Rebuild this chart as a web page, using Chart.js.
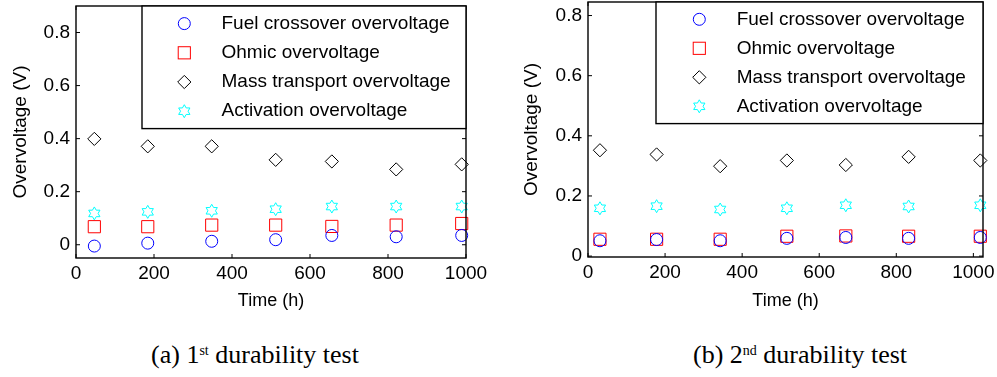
<!DOCTYPE html>
<html>
<head>
<meta charset="utf-8">
<script src="https://cdn.jsdelivr.net/npm/chart.js@4.4.1/dist/chart.umd.min.js"></script>
<style>
html,body{margin:0;padding:0;background:#fff;}
body{width:997px;height:377px;overflow:hidden;position:relative;}
.box{position:absolute;top:0;}
.cap{position:absolute;top:342px;font-family:"Liberation Serif","Times New Roman",serif;font-size:26px;line-height:26px;color:#000;white-space:nowrap;transform:translateX(-50%);}
.cap sup{font-size:14px;line-height:0;vertical-align:0.55em;}
</style>
</head>
<body>
<div class="box" style="left:0;"><canvas id="c1" width="490" height="315"></canvas></div>
<div class="box" style="left:500px;"><canvas id="c2" width="497" height="315"></canvas></div>
<div class="cap" style="left:255px;">(a) 1<sup>st</sup> durability test</div>
<div class="cap" style="left:800px;">(b) 2<sup>nd</sup> durability test</div>
<script>
// ---------- data ----------
const seriesLabels = ['Fuel crossover overvoltage', 'Ohmic overvoltage', 'Mass transport overvoltage', 'Activation overvoltage'];

// (a) 1st durability test
const timeA = [47, 184, 348, 512, 656, 821, 989];
const fuelA = [-0.005, 0.006, 0.013, 0.019, 0.035, 0.030, 0.035];
const ohmicA = [0.068, 0.068, 0.074, 0.074, 0.069, 0.074, 0.080];
const massA = [0.399, 0.371, 0.371, 0.320, 0.314, 0.284, 0.303];
const actA = [0.118, 0.124, 0.128, 0.134, 0.144, 0.144, 0.144];

// (b) 2nd durability test
const timeB = [31, 178, 343, 516, 669, 832, 1018];
const fuelB = [0.051, 0.055, 0.051, 0.059, 0.062, 0.059, 0.062];
const ohmicB = [0.056, 0.056, 0.056, 0.066, 0.067, 0.066, 0.066];
const massB = [0.352, 0.338, 0.299, 0.318, 0.303, 0.330, 0.318];
const actB = [0.159, 0.166, 0.155, 0.159, 0.169, 0.165, 0.169];

const xTickValues = [0, 200, 400, 600, 800, 1000];
const xTickLabels = ['0', '200', '400', '600', '800', '1000'];
const yTickValues = [0, 0.2, 0.4, 0.6, 0.8];
const yTickLabels = ['0', '0.2', '0.4', '0.6', '0.8'];

// ---------- markers ----------
function hexagramPath(ctx, cx, cy, R) {
  const r = R / Math.sqrt(3);
  ctx.beginPath();
  for (let k = 0; k < 12; k++) {
    const a = -Math.PI / 2 + k * Math.PI / 6;
    const rr = (k % 2 === 0) ? R : r;
    const px = cx + rr * Math.cos(a), py = cy + rr * Math.sin(a);
    if (k === 0) ctx.moveTo(px, py); else ctx.lineTo(px, py);
  }
  ctx.closePath();
}
function hexagramImg(color, R) {
  const s = Math.ceil(2 * R + 4);
  const c = document.createElement('canvas');
  c.width = s; c.height = s;
  const g = c.getContext('2d');
  g.strokeStyle = color; g.lineWidth = 1;
  hexagramPath(g, s / 2, s / 2, R);
  g.stroke();
  return c;
}
const STAR_R = 6.5;
const starImg = hexagramImg('#00ffff', STAR_R);

const styles = [
  { pointStyle: 'circle', borderColor: '#0000ff', radius: 6 },
  { pointStyle: 'rect', borderColor: '#ff0000', radius: 8.6 },
  { pointStyle: 'rectRot', borderColor: '#000000', radius: 6.6 },
  { pointStyle: starImg, borderColor: '#00ffff', radius: 7, hexagram: true }
];

function drawMarker(ctx, ds, x, y) {
  const st = ds.pointStyle;
  const r = ds.pointRadius;
  ctx.save();
  ctx.strokeStyle = ds.borderColor; ctx.lineWidth = 1;
  if (ds.hexagram) {
    hexagramPath(ctx, x, y, STAR_R); ctx.stroke();
  } else if (st === 'rect') {
    const s = Math.SQRT1_2 * r;
    ctx.strokeRect(x - s, y - s, 2 * s, 2 * s);
  } else if (st === 'rectRot') {
    ctx.beginPath();
    ctx.moveTo(x - r, y); ctx.lineTo(x, y - r); ctx.lineTo(x + r, y); ctx.lineTo(x, y + r);
    ctx.closePath(); ctx.stroke();
  } else {
    ctx.beginPath(); ctx.arc(x, y, r, 0, Math.PI * 2); ctx.stroke();
  }
  ctx.restore();
}

// vector hexagrams at the positions computed by the library
const hexagramPoints = {
  id: 'hexagramPoints',
  beforeDatasetDraw(chart, args) {
    const ds = chart.data.datasets[args.index];
    if (!ds.hexagram) return;
    const ctx = chart.ctx;
    ctx.save();
    ctx.strokeStyle = ds.borderColor; ctx.lineWidth = 1;
    args.meta.data.forEach(el => { hexagramPath(ctx, el.x, el.y, STAR_R); ctx.stroke(); });
    ctx.restore();
    return false;
  }
};

const frameLegend = {
  id: 'frameLegend',
  afterDraw(chart, args, opts) {
    const { ctx, chartArea: a } = chart;
    const xs = chart.scales.x, ys = chart.scales.y;
    ctx.save();
    ctx.strokeStyle = '#000';
    ctx.lineWidth = 1;
    ctx.beginPath();
    xs.ticks.forEach(t => {
      const px = xs.getPixelForValue(t.value);
      ctx.moveTo(px, a.bottom); ctx.lineTo(px, a.bottom - 4);
      ctx.moveTo(px, a.top); ctx.lineTo(px, a.top + 4);
    });
    ys.ticks.forEach(t => {
      const py = ys.getPixelForValue(t.value);
      ctx.moveTo(a.left, py); ctx.lineTo(a.left + 4, py);
      ctx.moveTo(a.right, py); ctx.lineTo(a.right - 4, py);
    });
    ctx.stroke();
    ctx.lineWidth = 1.4;
    ctx.strokeRect(a.left, a.top, a.right - a.left, a.bottom - a.top);
    // legend box
    const L = a.right - opts.width, T = a.top;
    ctx.fillStyle = '#fff';
    ctx.fillRect(L, T, opts.width, opts.height);
    ctx.lineWidth = 1.4;
    ctx.strokeRect(L, T, opts.width, opts.height);
    ctx.font = '19px "Liberation Sans", Arial, sans-serif';
    ctx.textBaseline = 'middle';
    ctx.textAlign = 'left';
    chart.data.datasets.forEach((ds, i) => {
      const cy = T + opts.row0 + i * opts.rowGap;
      drawMarker(ctx, ds, L + opts.markerX, cy);
      ctx.fillStyle = '#000';
      ctx.fillText(ds.label, L + opts.textX, cy);
    });
    ctx.restore();
  }
};

function makeDatasets(times, arrays) {
  return arrays.map((vals, i) => ({
    label: seriesLabels[i],
    data: times.map((t, k) => ({ x: t, y: vals[k] })),
    pointStyle: styles[i].pointStyle,
    pointRadius: styles[i].radius,
    pointHoverRadius: styles[i].radius,
    borderColor: styles[i].borderColor,
    backgroundColor: 'rgba(0,0,0,0)',
    pointBackgroundColor: 'rgba(0,0,0,0)',
    pointBorderWidth: 1,
    hexagram: !!styles[i].hexagram,
    showLine: false,
    clip: false
  }));
}

const FONT = '"Liberation Sans", Arial, sans-serif';

function makeChart(id, times, arrays, cfg) {
  return new Chart(document.getElementById(id), {
    type: 'scatter',
    data: { datasets: makeDatasets(times, arrays) },
    plugins: [hexagramPoints, frameLegend],
    options: {
      responsive: false,
      animation: false,
      devicePixelRatio: 1,
      events: [],
      layout: { autoPadding: false, padding: cfg.padding },
      plugins: {
        legend: { display: false },
        tooltip: { enabled: false },
        frameLegend: cfg.legend
      },
      scales: {
        x: {
          type: 'linear',
          min: cfg.xMin, max: cfg.xMax,
          afterBuildTicks: s => { s.ticks = xTickValues.map(v => ({ value: v })); },
          afterFit: s => { s.height = cfg.xHeight; s.paddingLeft = 0; s.paddingRight = 0; },
          grid: { display: false, drawTicks: false },
          border: { display: false },
          ticks: {
            color: '#000', padding: 4.6, maxRotation: 0, autoSkip: false,
            font: { family: FONT, size: 19 },
            callback: v => xTickLabels[xTickValues.indexOf(v)]
          },
          title: {
            display: true, text: 'Time (h)', color: '#000',
            font: { family: FONT, size: 18 },
            padding: { top: 0, bottom: 3.2 }
          }
        },
        y: {
          type: 'linear',
          min: cfg.yMin, max: cfg.yMax,
          afterBuildTicks: s => { s.ticks = yTickValues.map(v => ({ value: v })); },
          afterFit: s => { s.width = cfg.yWidth; s.paddingTop = 0; s.paddingBottom = 0; },
          grid: { display: false, drawTicks: false },
          border: { display: false },
          ticks: {
            color: '#000', padding: 6, autoSkip: false,
            font: { family: FONT, size: 19 },
            callback: v => yTickLabels[yTickValues.indexOf(v)]
          },
          title: {
            display: true, text: 'Overvoltage (V)', color: '#000',
            font: { family: FONT, size: 19 },
            padding: { top: cfg.yTitlePad, bottom: 0 }
          }
        }
      }
    }
  });
}

makeChart('c1', timeA, [fuelA, ohmicA, massA, actA], {
  padding: { left: 0, top: 6, right: 24, bottom: 0 },
  xMin: 0, xMax: 1000, yMin: -0.05, yMax: 0.9,
  xHeight: 57, yWidth: 76, yTitlePad: 9,
  legend: { width: 324, height: 122.6, markerX: 42.3, textX: 79.5, row0: 17.6, rowGap: 29.2 }
});
makeChart('c2', timeB, [fuelB, ohmicB, massB, actB], {
  padding: { left: 0, top: 2, right: 14, bottom: 0 },
  xMin: 0, xMax: 1025, yMin: -0.003, yMax: 0.845,
  xHeight: 58, yWidth: 88, yTitlePad: 20.6,
  legend: { width: 327, height: 121.6, markerX: 43.3, textX: 80.7, row0: 17.3, rowGap: 29.0 }
});
</script>
</body>
</html>
